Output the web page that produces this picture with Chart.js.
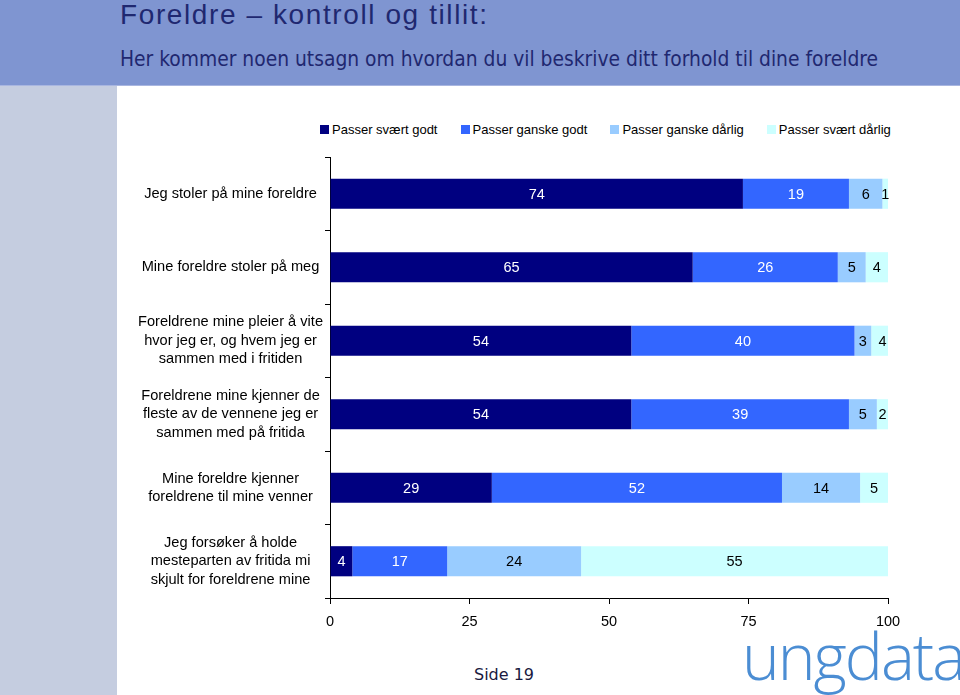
<!DOCTYPE html>
<html lang="no">
<head>
<meta charset="UTF-8">
<title>Foreldre - kontroll og tillit</title>
<script src="https://cdn.jsdelivr.net/npm/chart.js@4.4.1/dist/chart.umd.min.js"></script>
<style>
    html, body {
        margin: 0;
        padding: 0;
        width: 960px;
        height: 695px;
        overflow: hidden;
        background: #fff;
        font-family: "Liberation Sans", Arial, sans-serif;
    }
    .header {
        position: absolute;
        left: 0; top: 0;
        width: 960px; height: 85px;
        background: #7f95d1;
        border-bottom: 1px solid #a9b6e0;
    }
    .header h1 {
        position: absolute;
        left: 120px; top: 1px;
        margin: 0;
        font-family: "Liberation Sans", Arial, sans-serif;
        font-weight: normal;
        font-size: 28px;
        line-height: 28px;
        letter-spacing: 1.6px;
        color: #1f2870;
        white-space: nowrap;
    }
    .header h2 {
        position: absolute;
        left: 120px; top: 47px;
        margin: 0;
        font-family: "Liberation Sans Narrow", "DejaVu Sans Condensed", sans-serif;
        font-weight: normal;
        font-size: 20.8px;
        color: #1f2870;
        white-space: nowrap;
    }
    .strip {
        position: absolute;
        left: 0; top: 86px;
        width: 117px; height: 609px;
        background: #c5cde0;
    }
    .legend {
        position: absolute;
        left: 320px; top: 122px;
        display: flex;
        gap: 23px;
        font-size: 13px;
        line-height: 16px;
        color: #000;
        white-space: nowrap;
    }
    .legend span.box {
        display: inline-block;
        width: 9px; height: 9px;
        margin-right: 3px;
    }
    .chart-box {
        position: absolute;
        left: 118px; top: 100px;
        width: 842px; height: 540px;
    }
    .page {
        position: absolute;
        left: 474px; top: 665px;
        font-family: "DejaVu Sans", Verdana, sans-serif;
        font-size: 16px;
        color: #1a1a40;
    }
    .logo {
        position: absolute;
        left: 742px; top: 612px;
        font-family: "Open Sans", "DejaVu Sans", sans-serif;
        font-weight: 300;
        font-size: 64px;
        letter-spacing: -2px;
        color: #4b8dd3;
    }
</style>
</head>
<body>
<div class="header">
    <h1>Foreldre – kontroll og tillit:</h1>
    <h2>Her kommer noen utsagn om hvordan du vil beskrive ditt forhold til dine foreldre</h2>
</div>
<div class="strip"></div>
<div class="legend" id="legend"></div>
<div class="chart-box"><canvas id="chart" width="842" height="540"></canvas></div>
<div class="page">Side 19</div>
<div class="logo">ungdata</div>

<script>
    // Data (percent)
    const categories = [
        'Jeg stoler på mine foreldre',
        'Mine foreldre stoler på meg',
        ['Foreldrene mine pleier å vite', 'hvor jeg er, og hvem jeg er', 'sammen med i fritiden'],
        ['Foreldrene mine kjenner de', 'fleste av de vennene jeg er', 'sammen med på fritida'],
        ['Mine foreldre kjenner', 'foreldrene til mine venner'],
        ['Jeg forsøker å holde', 'mesteparten av fritida mi', 'skjult for foreldrene mine']
    ];
    const seriesNames = ['Passer svært godt', 'Passer ganske godt', 'Passer ganske dårlig', 'Passer svært dårlig'];
    const sveartGodt = [74, 65, 54, 54, 29, 4];
    const ganskeGodt = [19, 26, 40, 39, 52, 17];
    const ganskeDarlig = [6, 5, 3, 5, 14, 24];
    const sveartDarlig = [1, 4, 4, 2, 5, 55];
    const xTicks = [0, 25, 50, 75, 100];

    const colors = ['#000080', '#3366ff', '#99ccff', '#ccffff'];
    const labelColors = ['#ffffff', '#ffffff', '#000000', '#000000'];

    // legend as plain html so it can sit where the original has it
    const legendEl = document.getElementById('legend');
    seriesNames.forEach((name, i) => {
        const item = document.createElement('div');
        item.innerHTML = '<span class="box" style="background:' + colors[i] + '"></span>' + name;
        legendEl.appendChild(item);
    });

    // draw the value in the middle of each bar piece
    const valueLabels = {
        id: 'valueLabels',
        afterDatasetsDraw(chart) {
            const ctx = chart.ctx;
            ctx.save();
            ctx.font = '14.5px "Liberation Sans", Arial, sans-serif';
            ctx.textAlign = 'center';
            ctx.textBaseline = 'middle';
            chart.data.datasets.forEach((ds, i) => {
                const meta = chart.getDatasetMeta(i);
                meta.data.forEach((bar, j) => {
                    const v = ds.data[j];
                    if (!v) return;
                    ctx.fillStyle = labelColors[i];
                    ctx.fillText(String(v), (bar.x + bar.base) / 2, bar.y + 1);
                });
            });
            ctx.restore();
        }
    };

    const allSeries = [sveartGodt, ganskeGodt, ganskeDarlig, sveartDarlig];

    new Chart(document.getElementById('chart'), {
        type: 'bar',
        data: {
            labels: categories,
            datasets: allSeries.map((vals, i) => ({
                label: seriesNames[i],
                data: vals,
                backgroundColor: colors[i],
                borderWidth: 0,
                barPercentage: 0.41,
                categoryPercentage: 1
            }))
        },
        options: {
            indexAxis: 'y',
            responsive: false,
            animation: false,
            layout: { padding: { left: 0, right: 72, top: 57, bottom: 0 } },
            plugins: {
                tooltip: { enabled: false },
                legend: { display: false }
            },
            scales: {
                x: {
                    stacked: true,
                    min: 0,
                    max: 100,
                    afterBuildTicks(scale) {
                        scale.ticks = xTicks.map(v => ({ value: v }));
                    },
                    afterFit(scale) { scale.height = 42; },
                    grid: { drawOnChartArea: false, color: '#000', tickLength: 6 },
                    border: { color: '#000', width: 1 },
                    ticks: {
                        color: '#000',
                        padding: 9,
                        maxRotation: 0,
                        font: { family: '"Liberation Sans", Arial, sans-serif', size: 14.5 }
                    }
                },
                y: {
                    stacked: true,
                    afterFit(scale) { scale.width = 212; },
                    grid: { drawOnChartArea: false, offset: true, color: '#000', tickLength: 5 },
                    border: { color: '#000', width: 1 },
                    ticks: {
                        color: '#000',
                        crossAlign: 'center',
                        padding: 2,
                        font: { family: '"Liberation Sans", Arial, sans-serif', size: 14.6, lineHeight: 1.27 }
                    }
                }
            }
        },
        plugins: [valueLabels]
    });
</script>
</body>
</html>
